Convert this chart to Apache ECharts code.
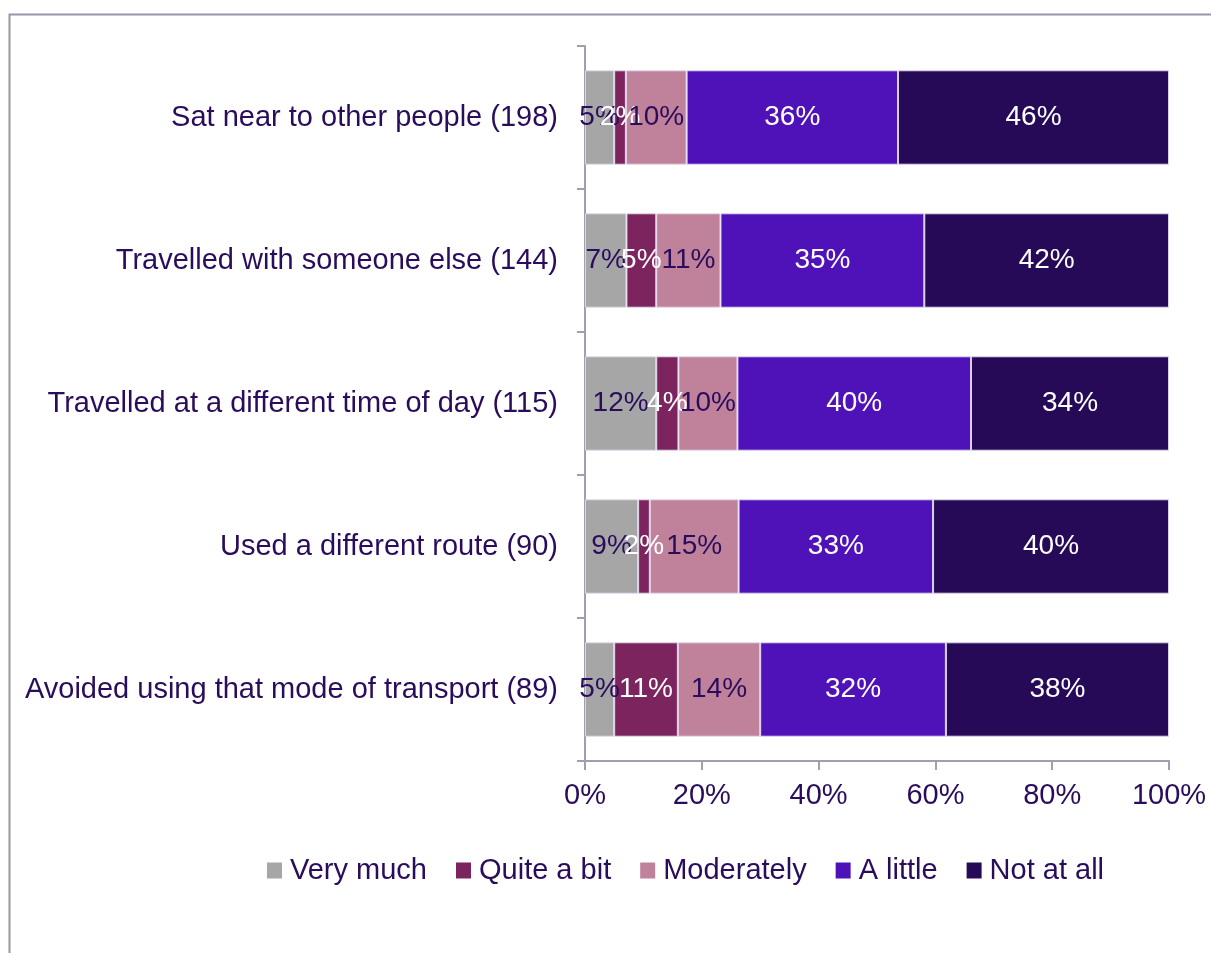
<!DOCTYPE html>
<html>
<head>
<meta charset="utf-8">
<title>Stacked bar chart</title>
<script src="https://cdn.jsdelivr.net/npm/echarts@6/dist/echarts.min.js"></script>
<style>
  html, body { margin: 0; padding: 0; background: #ffffff; }
  #chart { width: 1211px; height: 953px; }
</style>
</head>
<body>
<div id="chart"></div>
<script>
// Share of respondents by how much each action was taken (percent of row)
const categories = [
  'Sat near to other people (198)',
  'Travelled with someone else (144)',
  'Travelled at a different time of day (115)',
  'Used a different route (90)',
  'Avoided using that mode of transport (89)'
];
const seriesNames = ['Very much', 'Quite a bit', 'Moderately', 'A little', 'Not at all'];
const veryMuch   = [5.0, 7.1, 12.2, 9.1, 5.0];
const quiteABit  = [2.0, 5.1, 3.8, 2.0, 10.9];
const moderately = [10.4, 11.0, 10.1, 15.2, 14.1];
const aLittle    = [36.2, 34.9, 40.0, 33.3, 31.8];
const notAtAll   = [46.4, 41.9, 33.9, 40.4, 38.2];
const xTicks = { min: 0, max: 100, interval: 20 };

const seriesValues = [veryMuch, quiteABit, moderately, aLittle, notAtAll];
const colors = ['#A6A6A6', '#7B245E', '#C0819B', '#4F12B8', '#260A57'];
const labelColors = ['#2A0C5C', '#FFFFFF', '#2A0C5C', '#FFFFFF', '#FFFFFF'];
const textColor = '#2A0C5C';
const axisColor = '#A09EB0';
const fontFamily = '"Liberation Sans", Arial, sans-serif';

const chart = echarts.init(document.getElementById('chart'), null, { renderer: 'canvas' });

const series = seriesNames.map((name, i) => ({
  name: name,
  type: 'bar',
  stack: 'total',
  barCategoryGap: '34%',
  data: seriesValues[i],
  itemStyle: {
    color: colors[i],
    borderColor: 'rgba(225,218,240,0.9)',
    borderWidth: 1
  },
  label: {
    show: true,
    position: 'inside',
    color: labelColors[i],
    fontFamily: fontFamily,
    fontSize: 28,
    formatter: p => Math.round(p.value) + '%'
  },
  emphasis: { disabled: true }
}));

chart.setOption({
  animation: false,
  backgroundColor: '#ffffff',
  graphic: [{
    type: 'rect',
    left: 7,
    top: 12,
    shape: { width: 1400, height: 1200 },
    style: { fill: 'none', stroke: '#9896AA', lineWidth: 2 },
    silent: true
  }],
  grid: { left: 585, right: 42, top: 46, bottom: 192, containLabel: false },
  legend: {
    data: seriesNames,
    left: 262,
    top: 851,
    icon: 'rect',
    itemWidth: 15,
    itemHeight: 16,
    itemGap: 29,
    selectedMode: false,
    itemStyle: { borderWidth: 0 },
    textStyle: { color: textColor, fontFamily: fontFamily, fontSize: 29, padding: [0, 0, 0, 3] }
  },
  xAxis: {
    type: 'value',
    min: xTicks.min,
    max: xTicks.max,
    interval: xTicks.interval,
    axisLine: { show: true, lineStyle: { color: axisColor, width: 2 } },
    axisTick: { show: true, length: 9, lineStyle: { color: axisColor, width: 2 } },
    splitLine: { show: false },
    axisLabel: {
      color: textColor,
      fontFamily: fontFamily,
      fontSize: 29,
      margin: 20,
      formatter: '{value}%'
    }
  },
  yAxis: {
    type: 'category',
    inverse: true,
    data: categories,
    axisLine: { show: true, lineStyle: { color: axisColor, width: 2 } },
    axisTick: { show: true, length: 8, lineStyle: { color: axisColor, width: 2 } },
    axisLabel: {
      color: textColor,
      fontFamily: fontFamily,
      fontSize: 29,
      margin: 27
    }
  },
  series: series
});
</script>
</body>
</html>
